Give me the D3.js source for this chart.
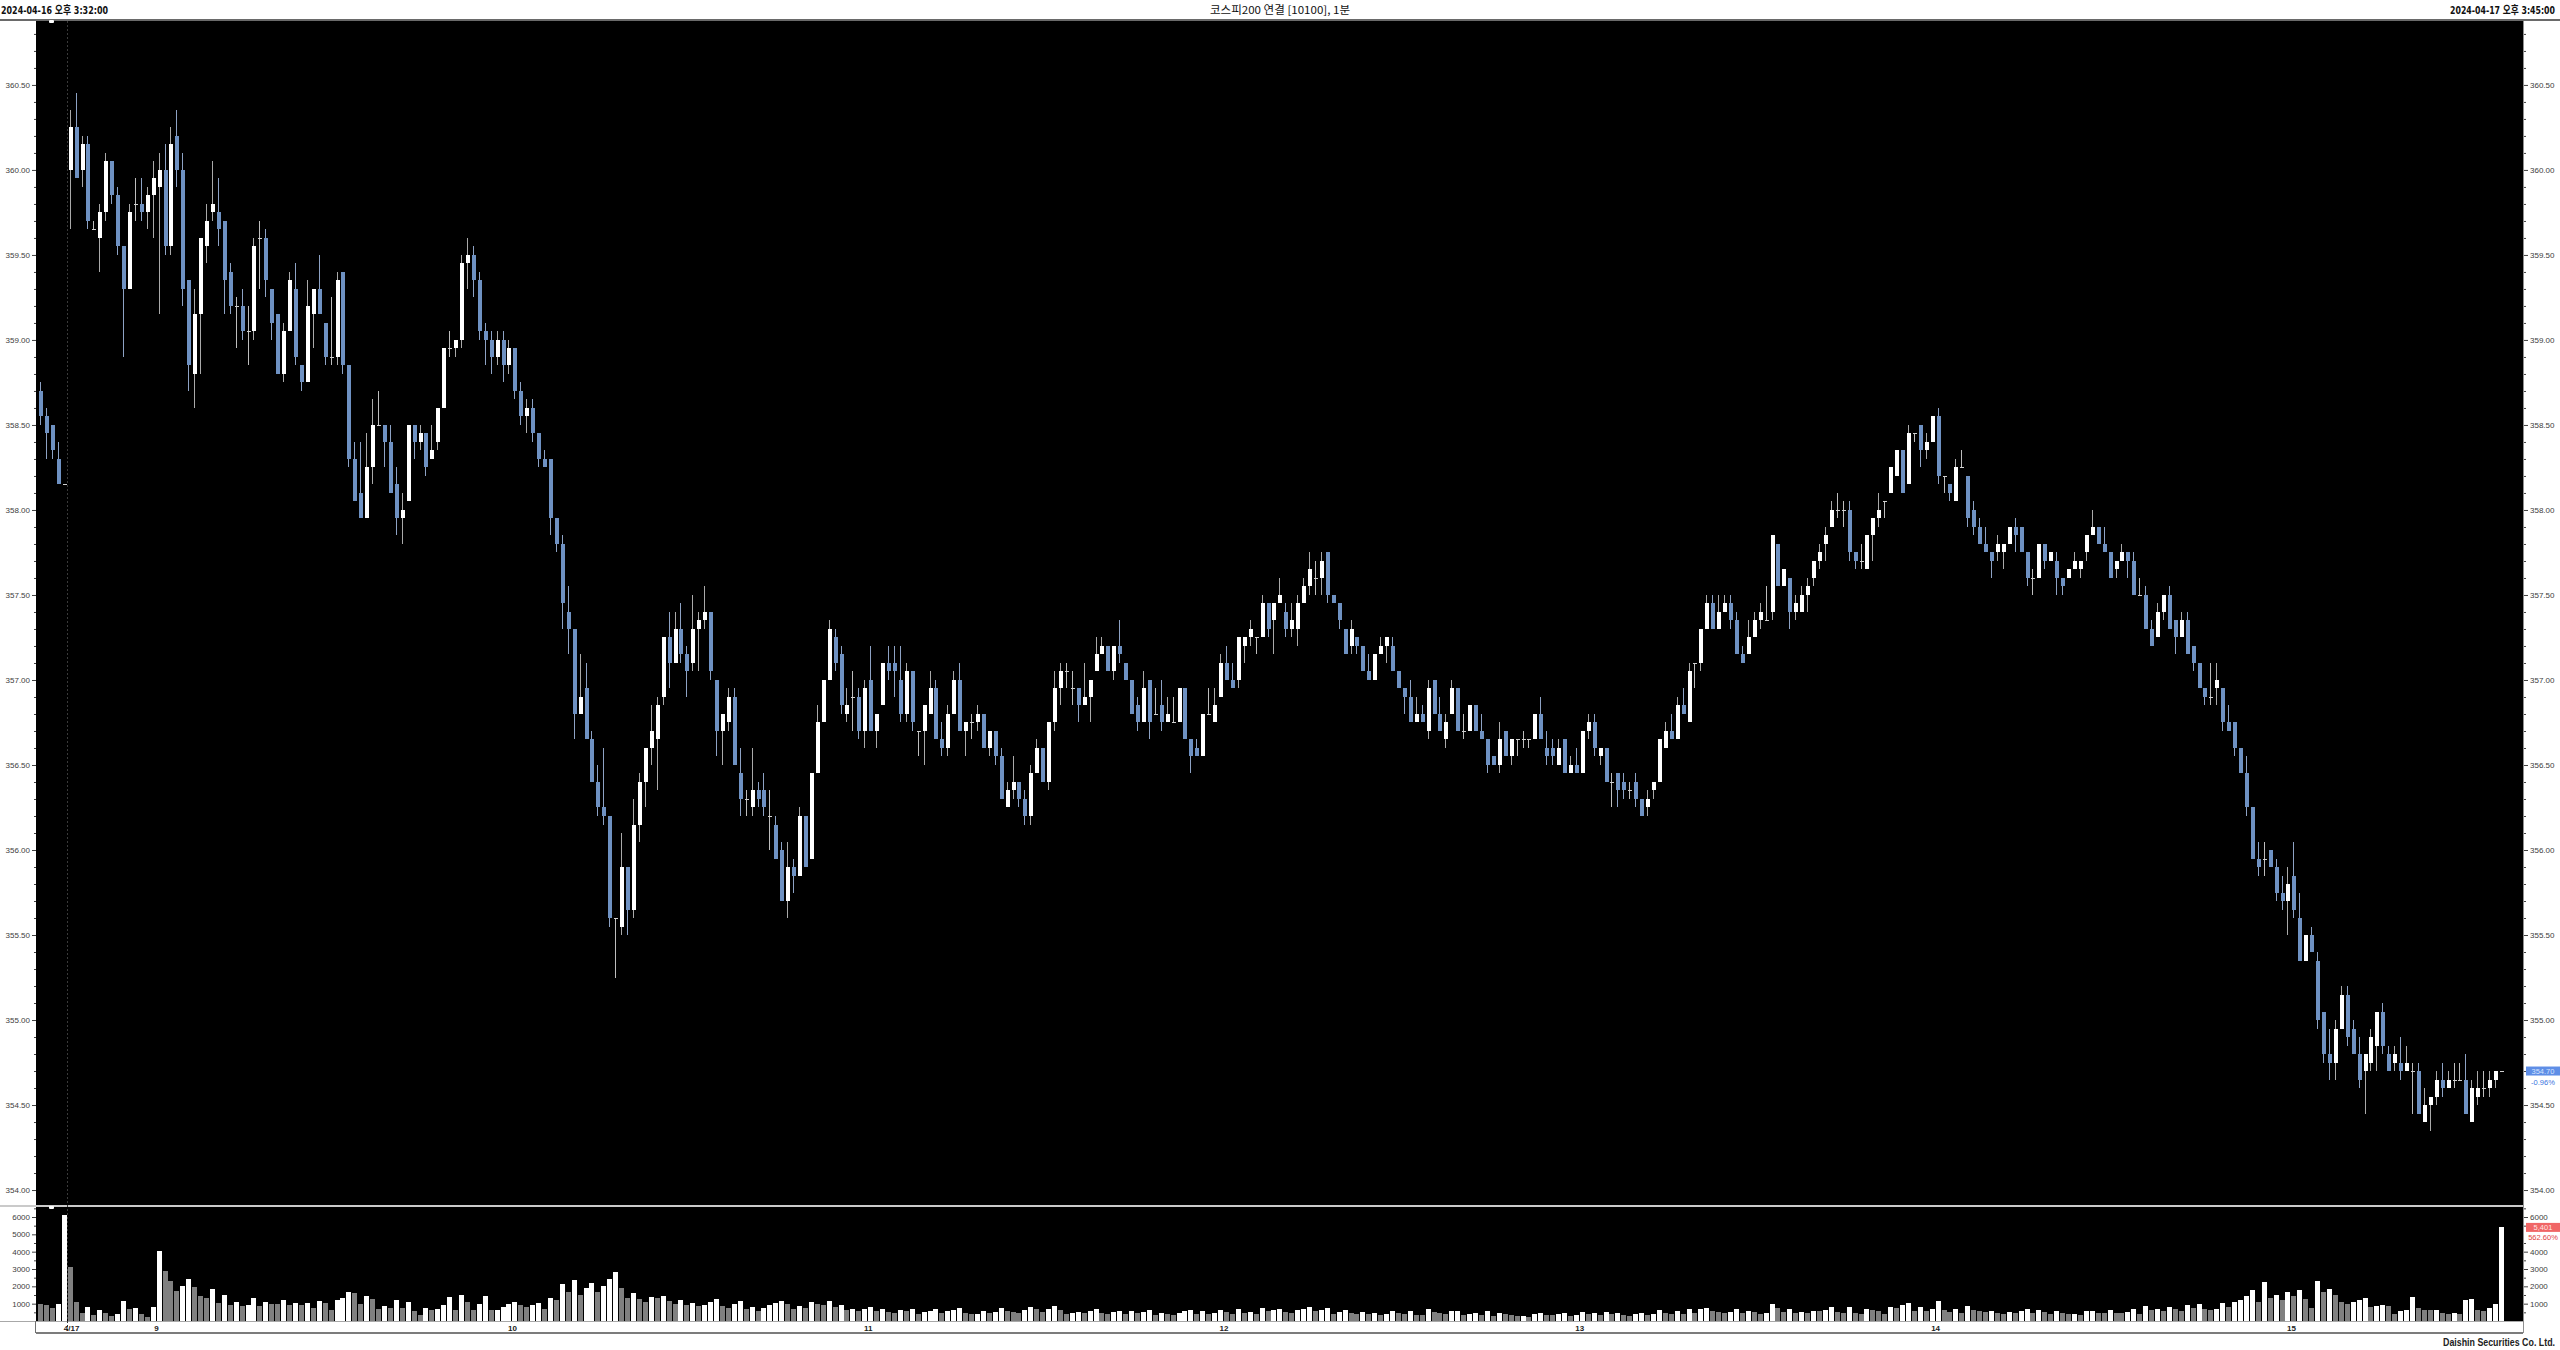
<!DOCTYPE html>
<html><head><meta charset="utf-8">
<script src="https://cdn.jsdelivr.net/npm/d3@7"></script>
<style>html,body{margin:0;padding:0;background:#fff;overflow:hidden}</style>
</head><body>
<svg id="c" width="2560" height="1350"></svg>
<script>
// ---------- DATA (1-minute bars, 2024-04-16 15:32 .. 2024-04-17 15:45) ----------
const opens = [
358.70,358.55,358.50,358.30,358.15,360.00,360.25,360.00,360.15,359.65,
359.60,359.75,360.05,359.85,359.55,359.30,359.80,359.80,359.75,359.85,
359.90,360.00,359.55,360.20,360.00,359.35,358.80,359.15,359.55,359.75,
359.75,359.70,359.40,359.20,359.20,359.05,359.05,359.60,359.60,359.30,
359.15,358.80,359.05,359.30,358.85,358.75,359.15,359.30,359.10,358.90,
358.90,359.40,358.85,358.30,358.10,357.95,358.25,358.50,358.50,358.40,
358.15,357.95,358.05,358.50,358.40,358.45,358.30,358.40,358.60,358.95,
358.95,359.00,359.45,359.50,359.35,359.05,359.00,358.90,359.00,358.85,
358.95,358.70,358.55,358.60,358.45,358.30,358.30,357.95,357.80,357.40,
357.30,356.80,356.95,356.65,356.40,356.25,356.20,355.60,355.55,355.90,
355.65,356.15,356.40,356.60,356.65,356.90,357.25,357.10,357.30,357.15,
357.10,357.30,357.35,357.40,357.00,356.70,356.75,356.90,356.45,356.30,
356.25,356.35,356.35,356.20,356.15,356.00,355.70,355.90,355.85,356.20,
355.95,356.45,356.75,357.00,357.25,357.15,356.80,356.90,356.90,356.70,
357.00,356.70,356.85,357.10,357.10,357.00,356.80,357.05,356.70,356.70,
356.80,356.95,356.65,356.60,356.80,357.00,356.70,356.75,356.75,356.80,
356.60,356.70,356.55,356.25,356.35,356.40,356.30,356.20,356.45,356.60,
356.40,356.75,356.95,357.05,356.95,356.95,356.85,356.90,357.05,357.15,
357.20,357.05,357.20,357.10,357.00,356.85,356.75,357.00,356.80,356.85,
356.75,356.75,356.75,356.95,356.65,356.60,356.55,356.80,356.75,356.90,
357.10,357.00,357.00,357.20,357.25,357.25,357.25,357.45,357.35,357.45,
357.40,357.30,357.30,357.45,357.55,357.60,357.60,357.75,357.50,357.45,
357.30,357.20,357.25,357.20,357.05,357.00,357.15,357.20,357.20,357.05,
356.95,356.90,356.75,356.80,356.70,357.00,356.80,356.65,356.80,356.95,
356.70,356.70,356.85,356.70,356.65,356.55,356.50,356.70,356.55,356.65,
356.65,356.65,356.65,356.80,356.60,356.60,356.50,356.65,356.45,356.50,
356.45,356.70,356.75,356.55,356.60,356.40,356.45,356.40,356.35,356.40,
356.30,356.25,356.35,356.40,356.60,356.70,356.65,356.85,356.75,357.10,
357.10,357.30,357.45,357.30,357.40,357.45,357.35,357.15,357.15,357.25,
357.35,357.35,357.40,357.80,357.55,357.60,357.40,357.40,357.50,357.60,
357.70,357.80,357.90,358.00,358.00,358.00,357.75,357.70,357.65,357.85,
357.95,358.05,358.10,358.20,358.35,358.15,358.45,358.50,358.35,358.40,
358.55,358.20,358.15,358.05,358.25,358.20,358.00,357.90,357.80,357.75,
357.75,357.75,357.80,357.90,357.90,357.75,357.60,357.60,357.80,357.70,
357.70,357.60,357.60,357.65,357.65,357.75,357.85,357.90,357.80,357.75,
357.65,357.70,357.75,357.70,357.50,357.50,357.30,357.25,357.40,357.50,
357.35,357.25,357.35,357.20,357.10,356.95,356.90,356.95,356.95,356.75,
356.75,356.60,356.45,356.25,355.95,355.95,356.00,355.90,355.75,355.70,
355.85,355.60,355.35,355.50,355.35,355.05,354.80,354.75,354.95,355.15,
354.95,354.80,354.70,354.75,354.85,355.05,354.80,354.75,354.75,354.70,
354.70,354.70,354.40,354.50,354.55,354.65,354.60,354.65,354.65,354.65,
354.40,354.55,354.60,354.60,354.65,354.70];
const highs = [
358.75,358.60,358.50,358.40,358.15,360.35,360.45,360.20,360.20,359.70,
359.80,360.10,360.05,359.90,359.55,359.80,359.95,359.95,359.90,360.05,
360.10,360.15,360.25,360.35,360.10,359.35,359.30,359.60,359.80,360.05,
359.95,359.70,359.45,359.25,359.30,359.20,359.60,359.70,359.65,359.30,
359.15,359.10,359.40,359.45,358.85,359.35,359.30,359.50,359.10,359.25,
359.40,359.40,358.85,358.40,358.40,358.45,358.65,358.70,358.50,358.50,
358.25,358.10,358.50,358.50,358.50,358.45,358.50,358.60,358.95,359.05,
359.00,359.50,359.60,359.55,359.40,359.10,359.05,359.05,359.05,359.00,
358.95,358.75,358.65,358.65,358.45,358.35,358.30,357.95,357.85,357.55,
357.30,357.15,357.10,356.70,356.50,356.60,356.20,355.60,356.10,355.90,
356.30,356.45,356.60,356.85,356.90,357.25,357.40,357.40,357.45,357.20,
357.50,357.40,357.55,357.40,357.00,356.80,356.95,356.95,356.60,356.35,
356.60,356.40,356.45,356.35,356.20,356.05,356.05,355.95,356.25,356.20,
356.45,356.85,357.00,357.35,357.30,357.20,356.95,357.05,356.95,357.00,
357.20,356.80,357.10,357.20,357.20,357.20,357.10,357.05,356.70,356.85,
357.05,357.00,356.75,356.85,357.05,357.10,356.75,356.80,356.85,356.80,
356.70,356.70,356.60,356.40,356.55,356.40,356.35,356.50,356.65,356.60,
356.75,357.05,357.10,357.10,357.05,356.95,357.10,357.00,357.25,357.25,
357.20,357.20,357.35,357.10,357.00,356.90,357.05,357.00,356.95,357.00,
356.90,356.90,356.95,356.95,356.65,356.65,356.80,356.95,356.95,357.15,
357.20,357.10,357.25,357.25,357.35,357.25,357.50,357.45,357.45,357.60,
357.45,357.45,357.50,357.60,357.75,357.70,357.75,357.75,357.50,357.45,
357.30,357.35,357.25,357.20,357.15,357.15,357.25,357.25,357.25,357.05,
356.95,357.00,356.90,356.85,357.00,357.00,356.90,356.80,357.00,356.95,
356.80,356.85,356.85,356.80,356.65,356.55,356.75,356.70,356.65,356.65,
356.70,356.65,356.80,356.90,356.70,356.65,356.65,356.65,356.55,356.60,
356.70,356.80,356.80,356.60,356.60,356.45,356.45,356.45,356.40,356.45,
356.30,356.35,356.40,356.65,356.75,356.80,356.90,356.95,357.10,357.10,
357.30,357.50,357.50,357.50,357.50,357.50,357.40,357.20,357.35,357.40,
357.45,357.55,357.85,357.80,357.65,357.60,357.50,357.55,357.60,357.70,
357.80,357.90,358.05,358.10,358.05,358.05,357.75,357.80,357.85,357.95,
358.10,358.05,358.25,358.35,358.35,358.50,358.45,358.50,358.45,358.55,
358.60,358.20,358.15,358.30,358.35,358.20,358.05,357.95,357.90,357.75,
357.85,357.80,357.90,357.95,357.90,357.75,357.65,357.80,357.80,357.75,
357.75,357.60,357.65,357.75,357.70,357.85,358.00,357.90,357.90,357.75,
357.70,357.80,357.75,357.75,357.60,357.55,357.35,357.45,357.50,357.55,
357.35,357.40,357.40,357.20,357.10,356.95,357.10,357.10,356.95,356.85,
356.75,356.60,356.55,356.25,356.05,356.05,356.00,355.95,355.85,355.90,
356.05,355.75,355.50,355.55,355.40,355.05,354.95,355.00,355.20,355.20,
355.00,354.90,354.80,354.95,355.05,355.10,354.85,354.85,354.90,354.85,
354.75,354.75,354.60,354.55,354.70,354.75,354.70,354.75,354.75,354.80,
354.65,354.70,354.70,354.70,354.70,354.70];
const lows = [
358.50,358.30,358.30,358.15,358.15,359.65,359.95,359.90,359.65,359.65,
359.40,359.70,359.80,359.50,358.90,359.30,359.70,359.70,359.65,359.60,
359.15,359.50,359.50,359.90,359.20,358.70,358.60,358.80,359.45,359.70,
359.55,359.15,359.15,358.95,359.00,358.85,359.00,359.30,359.25,359.00,
358.80,358.75,359.05,358.85,358.70,358.75,358.95,359.15,358.85,358.85,
358.85,358.80,358.25,358.05,357.95,357.95,358.15,358.50,358.25,358.10,
357.85,357.80,358.05,358.30,358.35,358.20,358.30,358.35,358.60,358.90,
358.90,358.95,359.30,359.25,359.00,358.85,358.80,358.85,358.75,358.80,
358.65,358.50,358.45,358.40,358.25,358.25,357.85,357.75,357.30,357.15,
356.65,356.80,356.65,356.40,356.20,356.15,355.55,355.25,355.50,355.50,
355.60,356.05,356.25,356.50,356.35,356.85,356.95,357.10,357.10,356.90,
357.05,357.05,357.30,357.00,356.55,356.50,356.70,356.50,356.20,356.20,
356.20,356.25,356.20,356.00,355.95,355.70,355.60,355.75,355.85,355.90,
355.95,356.45,356.75,357.00,357.05,356.80,356.75,356.70,356.65,356.60,
356.70,356.60,356.85,357.00,356.90,356.75,356.75,356.70,356.55,356.50,
356.80,356.65,356.55,356.55,356.80,356.70,356.55,356.65,356.70,356.60,
356.55,356.50,356.30,356.25,356.30,356.25,356.15,356.15,356.45,356.40,
356.35,356.70,356.85,356.95,356.85,356.75,356.85,356.75,357.05,357.15,
357.05,357.00,357.10,357.00,356.80,356.70,356.75,356.65,356.80,356.70,
356.75,356.75,356.75,356.65,356.45,356.55,356.55,356.80,356.75,356.90,
357.00,356.95,356.95,357.10,357.20,357.15,357.25,357.25,357.15,357.45,
357.25,357.25,357.20,357.45,357.50,357.50,357.50,357.45,357.45,357.30,
357.15,357.15,357.15,357.05,357.00,357.00,357.15,357.10,357.05,356.95,
356.80,356.75,356.75,356.75,356.65,356.80,356.70,356.60,356.80,356.70,
356.65,356.70,356.70,356.65,356.45,356.50,356.45,356.55,356.50,356.55,
356.60,356.60,356.65,356.65,356.50,356.50,356.50,356.45,356.45,356.45,
356.45,356.65,356.55,356.50,356.40,356.25,356.25,356.30,356.30,356.25,
356.20,356.20,356.30,356.40,356.60,356.65,356.65,356.80,356.75,356.95,
357.05,357.30,357.30,357.30,357.40,357.30,357.15,357.10,357.15,357.25,
357.30,357.35,357.35,357.55,357.55,357.30,357.35,357.40,357.40,357.55,
357.65,357.70,357.90,357.95,357.90,357.70,357.65,357.65,357.65,357.70,
357.90,357.95,358.10,358.20,358.10,358.15,358.40,358.25,358.30,358.40,
358.15,358.10,358.05,358.05,358.25,357.90,357.85,357.80,357.75,357.60,
357.70,357.65,357.80,357.75,357.75,357.55,357.50,357.60,357.65,357.70,
357.50,357.50,357.60,357.65,357.60,357.70,357.85,357.80,357.75,357.60,
357.60,357.70,357.60,357.50,357.50,357.30,357.20,357.25,357.35,357.30,
357.15,357.25,357.15,357.05,356.95,356.85,356.85,356.85,356.70,356.70,
356.55,356.45,356.20,355.95,355.85,355.85,355.90,355.70,355.65,355.50,
355.60,355.35,355.35,355.40,354.95,354.75,354.65,354.65,354.95,354.85,
354.80,354.60,354.45,354.70,354.70,354.80,354.70,354.70,354.65,354.70,
354.45,354.45,354.40,354.35,354.50,354.55,354.60,354.60,354.65,354.45,
354.40,354.50,354.55,354.55,354.60,354.70];
const closes = [
358.55,358.45,358.35,358.15,358.15,360.25,359.95,360.15,359.70,359.65,
359.75,360.05,359.85,359.55,359.30,359.75,359.80,359.75,359.85,359.95,
360.00,359.55,360.15,360.00,359.30,358.85,359.15,359.60,359.70,359.80,
359.65,359.35,359.20,359.20,359.05,359.05,359.55,359.60,359.35,359.10,
358.80,359.05,359.35,358.90,358.75,359.20,359.30,359.15,358.90,358.90,
359.35,358.85,358.30,358.05,357.95,358.25,358.50,358.50,358.40,358.10,
357.95,358.00,358.50,358.40,358.45,358.25,358.35,358.60,358.95,358.95,
359.00,359.45,359.50,359.35,359.05,359.00,358.90,359.00,358.85,358.95,
358.70,358.55,358.60,358.45,358.30,358.25,357.95,357.80,357.45,357.30,
356.80,356.90,356.65,356.40,356.25,356.20,355.60,355.60,355.90,355.65,
356.15,356.40,356.60,356.70,356.85,357.25,357.10,357.30,357.15,357.05,
357.30,357.35,357.40,357.05,356.70,356.80,356.90,356.50,356.30,356.30,
356.35,356.30,356.25,356.20,355.95,355.70,355.90,355.85,356.20,355.90,
356.45,356.75,357.00,357.30,357.10,356.85,356.85,356.90,356.70,356.95,
356.70,356.80,357.10,357.05,357.05,356.80,357.05,356.75,356.70,356.85,
356.95,356.65,356.60,356.80,357.00,356.70,356.75,356.75,356.80,356.60,
356.70,356.55,356.30,356.35,356.40,356.30,356.20,356.45,356.60,356.40,
356.75,356.95,357.05,357.05,356.95,356.85,356.90,357.00,357.15,357.20,
357.05,357.20,357.15,357.00,356.80,356.75,356.95,356.75,356.80,356.75,
356.80,356.75,356.95,356.65,356.55,356.55,356.80,356.80,356.85,357.10,
357.00,356.95,357.25,357.25,357.30,357.25,357.45,357.30,357.45,357.50,
357.30,357.35,357.45,357.55,357.65,357.60,357.70,357.50,357.45,357.35,
357.15,357.30,357.20,357.05,357.00,357.15,357.20,357.25,357.05,356.95,
356.90,356.75,356.80,356.75,356.95,356.80,356.70,356.75,356.95,356.70,
356.70,356.85,356.70,356.65,356.50,356.50,356.65,356.55,356.65,356.65,
356.65,356.65,356.80,356.65,356.55,356.55,356.60,356.45,356.50,356.45,
356.70,356.75,356.60,356.60,356.40,356.40,356.35,356.35,356.35,356.30,
356.20,356.30,356.40,356.65,356.70,356.65,356.85,356.80,357.05,357.10,
357.30,357.45,357.30,357.40,357.45,357.35,357.15,357.10,357.25,357.35,
357.40,357.35,357.85,357.55,357.65,357.40,357.45,357.50,357.55,357.70,
357.75,357.85,358.00,358.00,358.00,357.75,357.70,357.70,357.85,357.95,
358.00,358.05,358.25,358.35,358.10,358.45,358.45,358.35,358.40,358.55,
358.20,358.20,358.10,358.25,358.25,357.95,357.90,357.80,357.75,357.70,
357.80,357.80,357.90,357.85,357.75,357.60,357.60,357.80,357.70,357.75,
357.60,357.55,357.65,357.70,357.70,357.85,357.90,357.80,357.75,357.60,
357.70,357.75,357.70,357.50,357.50,357.30,357.20,357.40,357.50,357.30,
357.25,357.35,357.15,357.10,356.95,356.90,356.90,357.00,356.75,356.70,
356.60,356.45,356.25,355.95,355.90,355.95,355.90,355.75,355.70,355.80,
355.65,355.35,355.50,355.40,355.00,354.80,354.75,354.95,355.15,354.90,
354.80,354.65,354.80,354.90,355.05,354.85,354.70,354.80,354.70,354.75,
354.70,354.45,354.50,354.55,354.65,354.60,354.65,354.65,354.65,354.45,
354.60,354.60,354.60,354.65,354.70,354.70];
const volumes = [
1000,940,730,1000,6130,3115,1080,440,830,350,
615,480,310,385,1170,690,730,385,210,830,
4060,2900,2330,1730,2000,2400,1960,1460,1310,1870,
1020,1520,900,1115,850,920,1330,850,1080,1000,
980,1190,920,1060,900,1020,730,1150,1020,650,
1190,1350,1670,1615,960,1460,1290,690,885,730,
1190,730,1080,580,350,730,615,690,920,1400,
615,1520,1080,615,1000,1460,615,650,820,1000,
1100,950,780,900,1050,700,1350,1200,2150,1650,
2350,1500,1900,2200,1700,2000,2400,2850,1900,1350,
1600,1250,1100,1400,1300,1450,1150,1000,1200,900,
1050,880,940,1100,1250,850,760,1000,1150,700,
820,600,740,900,1050,1150,980,700,850,760,
1100,1000,950,1150,800,900,640,720,560,690,
830,600,700,520,480,640,560,700,420,520,
600,680,450,560,620,740,480,380,420,560,
470,520,760,600,520,460,620,800,680,540,
720,850,640,420,480,520,440,560,700,480,
420,520,600,380,560,460,520,640,360,480,
400,340,460,580,640,420,560,380,440,620,
520,400,680,460,520,380,760,560,620,700,
520,480,620,700,820,560,640,760,420,500,
620,460,380,520,420,480,360,420,560,480,
400,600,360,320,680,520,440,380,560,600,
340,420,480,360,560,300,460,400,340,260,
300,240,420,480,360,320,380,460,300,340,
520,420,480,360,540,400,460,340,300,420,
480,360,420,620,480,400,560,420,720,460,
680,740,600,520,460,540,700,480,560,520,
420,480,1000,760,540,680,460,520,440,600,
560,640,780,520,440,820,480,420,680,620,
560,420,820,760,900,1050,600,820,560,720,
1150,620,540,700,480,860,640,580,500,560,
460,420,520,480,600,720,480,620,540,380,
600,460,380,420,360,560,600,480,440,620,
480,460,520,700,420,860,640,720,560,800,
700,560,900,760,1000,720,620,680,1050,820,
1100,1200,1450,1800,1100,2250,1300,1500,1200,1650,
1450,1800,1250,730,2330,1650,1830,1480,1100,960,
1100,1210,1310,830,885,900,865,385,600,610,
1385,770,635,620,640,440,400,440,400,1190,
1270,615,560,770,980,5400];
const timeLabels = ["4/17","9","10","11","12","13","14","15"];
const timeLabelBars = [5,20,80,140,200,260,320,380];
const dayBreakAfterBar = 4;
const priceTicks = [354.00,354.50,355.00,355.50,356.00,356.50,357.00,357.50,358.00,358.50,359.00,359.50,360.00,360.50];
const priceMinorTicks = [354.1,354.2,354.3,354.4,354.6,354.7,354.8,354.9,355.1,355.2,355.3,355.4,355.6,355.7,355.8,355.9,356.1,356.2,356.3,356.4,356.6,356.7,356.8,356.9,357.1,357.2,357.3,357.4,357.6,357.7,357.8,357.9,358.1,358.2,358.3,358.4,358.6,358.7,358.8,358.9,359.1,359.2,359.3,359.4,359.6,359.7,359.8,359.9,360.1,360.2,360.3,360.4,360.6,360.7,360.8];
const volumeTicksLeft = [1000,2000,3000,4000,5000,6000];
const volumeTicksRight = [1000,2000,3000,4000,6000];
const volumeMinorTicks = [500,1500,2500,3500,4500,5500,6500];
const headerLeft = "2024-04-16 오후 3:32:00";
const headerTitle = "코스피200 연결 [10100], 1분";
const headerRight = "2024-04-17 오후 3:45:00";
const footerText = "Daishin Securities Co. Ltd.";
const lastPriceText = "354.70", lastChangeText = "-0.96%";
const lastVolumeText = "5,401", lastVolumeRatioText = "562.60%";

// ---------- LAYOUT ----------
const W = 2560, H = 1350;
const plotL = 36, plotR = 2523;
const priceTop = 21, priceBot = 1205;
const volTop = 1207, volBot = 1321, axisBot = 1333;
const UP = "#ffffff", DOWN = "#6e91c2";

const svg = d3.select("#c");
svg.append("rect").attr("width", W).attr("height", H).attr("fill", "#fff");

const x = d3.scaleLinear().domain([0, 415]).range([40, 2500.95]);
const y = d3.scaleLinear().domain([353.912, 360.876]).range([priceBot, priceTop]);
const yv = d3.scaleLinear().domain([0, 6000]).range([volBot, 1217]);

// header
const hdrFont = "'Liberation Sans Narrow','DejaVu Sans Condensed','Noto Sans CJK KR',sans-serif";
svg.append("text").attr("x", 1).attr("y", 14).text(headerLeft)
  .attr("font-family", hdrFont).attr("font-weight", "bold").attr("font-size", 11)
  .attr("textLength", 107).attr("lengthAdjust", "spacingAndGlyphs").attr("fill", "#111");
svg.append("text").attr("x", 1280).attr("y", 14).attr("text-anchor", "middle").text(headerTitle)
  .attr("font-family", "'Noto Sans CJK KR',sans-serif").attr("font-size", 11)
  .attr("textLength", 140).attr("lengthAdjust", "spacingAndGlyphs").attr("fill", "#111");
svg.append("text").attr("x", 2555).attr("y", 14).attr("text-anchor", "end").text(headerRight)
  .attr("font-family", hdrFont).attr("font-weight", "bold").attr("font-size", 11)
  .attr("textLength", 105).attr("lengthAdjust", "spacingAndGlyphs").attr("fill", "#111");
svg.append("rect").attr("x", 0).attr("y", 19).attr("width", W).attr("height", 2).attr("fill", "#6a6a6a");

// panels
svg.append("rect").attr("x", plotL).attr("y", priceTop).attr("width", plotR - plotL).attr("height", priceBot - priceTop).attr("fill", "#000");
svg.append("rect").attr("x", plotL).attr("y", volTop).attr("width", plotR - plotL).attr("height", volBot - volTop).attr("fill", "#000");
svg.append("line").attr("x1", 0).attr("x2", plotR).attr("y1", 1206).attr("y2", 1206).attr("stroke", "#b8b8b8").attr("stroke-width", 1.5);
svg.append("line").attr("x1", 0).attr("x2", plotR).attr("y1", volBot + 0.5).attr("y2", volBot + 0.5).attr("stroke", "#a8a8a8");
svg.append("line").attr("x1", plotL).attr("x2", plotR).attr("y1", axisBot).attr("y2", axisBot).attr("stroke", "#505050").attr("stroke-width", 1.5);
svg.append("line").attr("x1", plotL - 0.5).attr("x2", plotL - 0.5).attr("y1", volBot).attr("y2", axisBot).attr("stroke", "#707070");
svg.append("line").attr("x1", plotR + 0.5).attr("x2", plotR + 0.5).attr("y1", priceTop).attr("y2", axisBot).attr("stroke", "#909090");

// axes
const axFont = "'Liberation Sans',Arial,sans-serif";
function styleAxis(g) {
  g.select(".domain").remove();
  g.selectAll("text").attr("font-family", axFont).attr("font-size", 8).attr("fill", "#404040");
  g.selectAll("line").attr("stroke", "#404040");
}
const fmt2 = d3.format(".2f");
svg.append("g").attr("transform", `translate(${plotL},0)`)
  .call(d3.axisLeft(y).tickValues(priceTicks).tickFormat(fmt2).tickSize(4).tickPadding(2)).call(styleAxis);
svg.append("g").attr("transform", `translate(${plotL},0)`)
  .call(d3.axisLeft(y).tickValues(priceMinorTicks).tickFormat("").tickSize(2)).call(styleAxis);
svg.append("g").attr("transform", `translate(${plotR + 1},0)`)
  .call(d3.axisRight(y).tickValues(priceTicks).tickFormat(fmt2).tickSize(4).tickPadding(2)).call(styleAxis);
svg.append("g").attr("transform", `translate(${plotR + 1},0)`)
  .call(d3.axisRight(y).tickValues(priceMinorTicks).tickFormat("").tickSize(2)).call(styleAxis);
svg.append("g").attr("transform", `translate(${plotL},0)`)
  .call(d3.axisLeft(yv).tickValues(volumeTicksLeft).tickFormat(d3.format("d")).tickSize(4).tickPadding(2)).call(styleAxis);
svg.append("g").attr("transform", `translate(${plotL},0)`)
  .call(d3.axisLeft(yv).tickValues(volumeMinorTicks).tickFormat("").tickSize(2)).call(styleAxis);
svg.append("g").attr("transform", `translate(${plotR + 1},0)`)
  .call(d3.axisRight(yv).tickValues(volumeTicksRight).tickFormat(d3.format("d")).tickSize(4).tickPadding(2)).call(styleAxis);
svg.append("g").attr("transform", `translate(${plotR + 1},0)`)
  .call(d3.axisRight(yv).tickValues(volumeMinorTicks).tickFormat("").tickSize(2)).call(styleAxis);

// day break dashed line
const xb = Math.round((x(dayBreakAfterBar) + x(dayBreakAfterBar + 1)) / 2) + 0.5;
svg.append("line").attr("x1", xb).attr("x2", xb).attr("y1", priceTop).attr("y2", axisBot)
  .attr("stroke", "#3a3a3a").attr("stroke-dasharray", "2,2");

// candles
const idx = d3.range(opens.length);
const cg = svg.append("g").attr("shape-rendering", "crispEdges");
cg.selectAll("line.wick").data(idx).join("line").attr("class", "wick")
  .attr("x1", i => Math.round(x(i)) + 0.5).attr("x2", i => Math.round(x(i)) + 0.5)
  .attr("y1", i => y(highs[i])).attr("y2", i => y(lows[i]))
  .attr("stroke", i => closes[i] > opens[i] ? "#a9a9a9" : closes[i] < opens[i] ? "#8da2c4" : "#bdbdbd");
cg.selectAll("rect.body").data(idx).join("rect").attr("class", "body")
  .attr("x", i => Math.round(x(i)) - 1.5)
  .attr("width", 4)
  .attr("y", i => Math.min(y(opens[i]), y(closes[i])))
  .attr("height", i => Math.max(1, Math.abs(y(opens[i]) - y(closes[i]))))
  .attr("fill", i => closes[i] > opens[i] ? UP : closes[i] < opens[i] ? DOWN : "#d0d0d0");

// volume bars (white when volume rises vs previous bar, gray otherwise)
const vg = svg.append("g").attr("shape-rendering", "crispEdges");
vg.selectAll("rect").data(idx).join("rect")
  .attr("x", i => Math.round(x(i)) - 2)
  .attr("width", 5)
  .attr("y", i => yv(volumes[i]))
  .attr("height", i => volBot - yv(volumes[i]))
  .attr("fill", i => (i > 0 && volumes[i] >= volumes[i - 1]) ? "#ffffff" : "#808080");

// small panel handles
svg.append("rect").attr("x", 49).attr("y", 20).attr("width", 5).attr("height", 3).attr("rx", 1).attr("fill", "#fff");
svg.append("rect").attr("x", 49).attr("y", 1206).attr("width", 5).attr("height", 3).attr("rx", 1).attr("fill", "#fff");

// x labels
svg.append("g").selectAll("text").data(timeLabels).join("text")
  .attr("x", (d, k) => x(timeLabelBars[k]) + (k === 0 ? 2 : -2))
  .attr("y", 1331).attr("text-anchor", "middle").text(d => d)
  .attr("font-family", axFont).attr("font-weight", "bold").attr("font-size", 8).attr("fill", "#222");

// last price marker
const lp = y(closes[closes.length - 1]);
svg.append("rect").attr("x", 2526).attr("y", lp - 4.5).attr("width", 34).attr("height", 9).attr("fill", "#5f8ee6");
svg.append("text").attr("x", 2543).attr("y", lp + 3).attr("text-anchor", "middle").text(lastPriceText)
  .attr("font-family", axFont).attr("font-size", 7.5).attr("fill", "#d6e4ff");
svg.append("text").attr("x", 2543).attr("y", lp + 14).attr("text-anchor", "middle").text(lastChangeText)
  .attr("font-family", axFont).attr("font-size", 7.5).attr("fill", "#3a74e0");

// last volume marker
const lv = yv(volumes[volumes.length - 1]);
svg.append("rect").attr("x", 2526).attr("y", lv - 4.5).attr("width", 34).attr("height", 9).attr("fill", "#f06666");
svg.append("text").attr("x", 2543).attr("y", lv + 3).attr("text-anchor", "middle").text(lastVolumeText)
  .attr("font-family", axFont).attr("font-size", 7.5).attr("fill", "#ffe4e4");
svg.append("text").attr("x", 2543).attr("y", lv + 13).attr("text-anchor", "middle").text(lastVolumeRatioText)
  .attr("font-family", axFont).attr("font-size", 7.5).attr("fill", "#e04040");

// footer
svg.append("text").attr("x", 2555).attr("y", 1346).attr("text-anchor", "end").text(footerText)
  .attr("font-family", axFont).attr("font-weight", "bold").attr("font-size", 10)
  .attr("textLength", 112).attr("lengthAdjust", "spacingAndGlyphs").attr("fill", "#222");
</script>
</body></html>
